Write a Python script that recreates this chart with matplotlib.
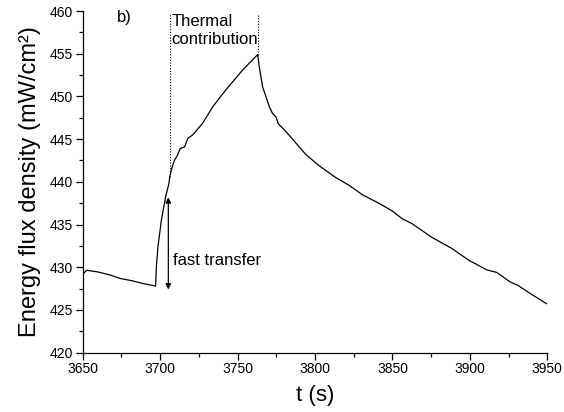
import matplotlib
matplotlib.use("Agg")
import matplotlib.pyplot as plt
from matplotlib.ticker import MultipleLocator

plt.rcParams['font.family'] = ['Liberation Sans', 'DejaVu Sans']

# time (s) and energy flux density (mW/cm2)
t = [3650.0, 3652.6, 3660.0, 3667.6, 3674.0, 3682.5, 3689.0, 3697.1,
     3697.6, 3698.6, 3700.8, 3703.6, 3705.7, 3706.2, 3707.9, 3709.4,
     3710.8, 3713.0, 3715.8, 3717.9, 3721.1, 3727.6, 3734.0, 3742.6,
     3753.3, 3763.0, 3764.0, 3766.2, 3768.3, 3770.5, 3772.6, 3774.8,
     3776.3, 3781.2, 3789.8, 3794.1, 3802.6, 3813.4, 3822.0, 3830.5,
     3841.2, 3849.8, 3856.2, 3862.7, 3875.5, 3888.4, 3899.1, 3910.9,
     3917.3, 3925.9, 3931.3, 3938.8, 3948.5, 3950.0]
flux = [429.2, 429.65, 429.45, 429.1, 428.7, 428.4, 428.1, 427.8,
        430.1, 432.4, 435.5, 438.3, 439.8, 440.6, 441.8, 442.6,
        442.95, 443.9, 444.1, 445.1, 445.5, 446.9, 448.8, 450.8,
        453.1, 454.9, 453.5, 451.1, 450.0, 448.8, 448.0, 447.6,
        446.8, 445.9, 444.1, 443.2, 441.9, 440.5, 439.6, 438.5,
        437.5, 436.6, 435.7, 435.1, 433.5, 432.2, 430.85, 429.7,
        429.4, 428.3, 427.85, 426.95, 425.85, 425.7]

x_ticks = [3650, 3700, 3750, 3800, 3850, 3900, 3950]
y_ticks = [420, 425, 430, 435, 440, 445, 450, 455, 460]

thermal_start = 3706.4
thermal_end = 3763.2
thermal_start_y = 440.6
thermal_end_y = 454.9
dotted_top = 459.6
arrow_x = 3705.3
arrow_low = 427.4
arrow_high = 438.2

fig = plt.figure(figsize=(5.64, 4.12), dpi=100)
ax = fig.add_axes([0.1466, 0.1439, 0.8238, 0.8294])

ax.plot(t, flux, color='black', lw=0.9)

ax.plot([thermal_start, thermal_start], [thermal_start_y, dotted_top],
        color='black', lw=0.8, ls=(0, (1, 1.5)))
ax.plot([thermal_end, thermal_end], [thermal_end_y, dotted_top],
        color='black', lw=0.8, ls=(0, (1, 1.5)))

ax.annotate('', xy=(arrow_x, arrow_high), xytext=(arrow_x, arrow_low),
            arrowprops=dict(arrowstyle='<|-|>', color='black', lw=0.9,
                            mutation_scale=8, shrinkA=0, shrinkB=0))

ax.text(3708.3, 430.85, 'fast transfer', fontsize=12, va='center', ha='left')
ax.text(3707.3, 459.6, 'Thermal\ncontribution', fontsize=12, va='top',
        ha='left', linespacing=1.25)
ax.text(3672, 459.2, 'b)', fontsize=12, va='center', ha='left')

ax.set_xlim(3650, 3950)
ax.set_ylim(420, 460)
ax.set_xticks(x_ticks)
ax.set_yticks(y_ticks)
ax.xaxis.set_minor_locator(MultipleLocator(25))
ax.yaxis.set_minor_locator(MultipleLocator(2.5))
ax.tick_params(which='major', direction='out', length=5, width=0.9,
               labelsize=10, pad=2)
ax.tick_params(which='minor', direction='out', length=3, width=0.9)
ax.spines['top'].set_visible(False)
ax.spines['right'].set_visible(False)
for s in ('left', 'bottom'):
    ax.spines[s].set_linewidth(0.9)

ax.set_xlabel('t (s)', fontsize=16, labelpad=6)
ax.set_ylabel('Energy flux density (mW/cm²)', fontsize=17, labelpad=6)

fig.savefig('out.png', dpi=100)
